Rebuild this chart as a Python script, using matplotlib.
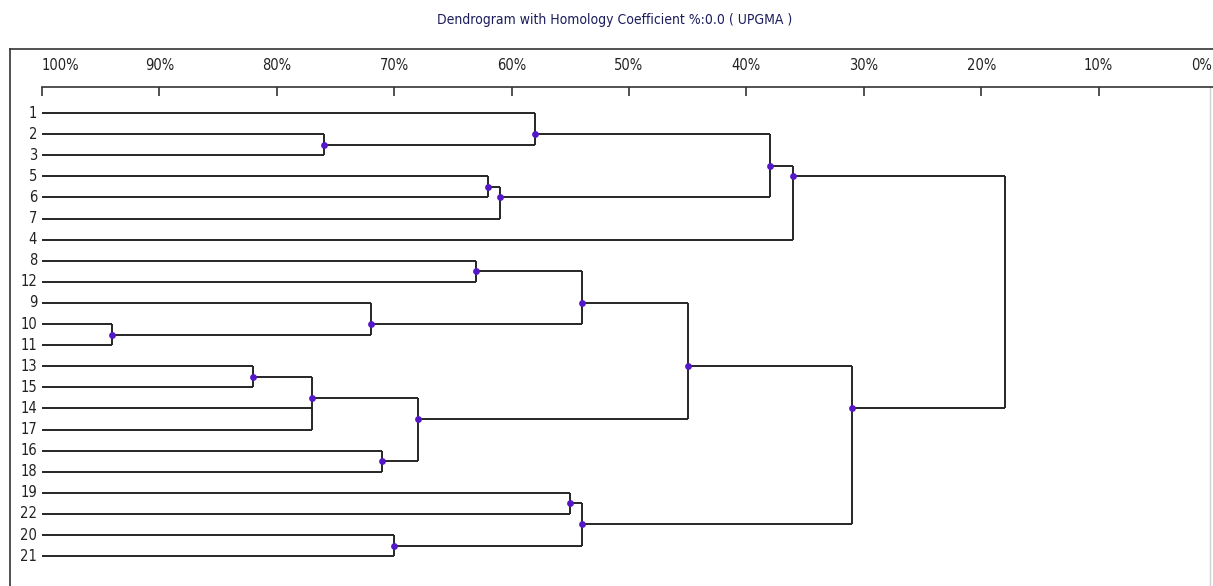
import numpy as np
import matplotlib
matplotlib.use("Agg")
import matplotlib.pyplot as plt

plt.rcParams['font.family'] = ['Liberation Sans Narrow', 'DejaVu Sans']
plt.rcParams['font.stretch'] = 'condensed'

# leaves in the order they are drawn, top to bottom
leaf_order = ["1", "2", "3", "5", "6", "7", "4", "8", "12", "9", "10", "11",
              "13", "15", "14", "17", "16", "18", "19", "22", "20", "21"]

# merges: (node name, children, similarity %)
merges = [
    ("n1", ["10", "11"], 94.0),
    ("n2", ["13", "15"], 82.0),
    ("n3", ["n2", "14", "17"], 77.0),
    ("n4", ["2", "3"], 76.0),
    ("n5", ["9", "n1"], 72.0),
    ("n6", ["16", "18"], 71.0),
    ("n7", ["20", "21"], 70.0),
    ("n8", ["n3", "n6"], 68.0),
    ("n9", ["8", "12"], 63.0),
    ("n10", ["5", "6"], 62.0),
    ("n11", ["n10", "7"], 61.0),
    ("n12", ["1", "n4"], 58.0),
    ("n13", ["19", "22"], 55.0),
    ("n14", ["n9", "n5"], 54.0),
    ("n15", ["n13", "n7"], 54.0),
    ("n16", ["n14", "n8"], 45.0),
    ("n17", ["n12", "n11"], 38.0),
    ("n18", ["n17", "4"], 36.0),
    ("n19", ["n16", "n15"], 31.0),
    ("root", ["n18", "n19"], 18.0),
]

scale_ticks = [100, 90, 80, 70, 60, 50, 40, 30, 20, 10, 0]
title = "Dendrogram with Homology Coefficient %:0.0 ( UPGMA )"

W, H = 1213, 586
x100 = 42.0      # pixel of 100%
pxpct = 11.74    # pixels per percent
row0 = 113.0     # pixel of first leaf
rowh = 21.1      # pixels per leaf row


def px_to_pct(px):
    return 100 - (px - x100) / pxpct


def px_to_row(py):
    return (py - row0) / rowh


fig = plt.figure(figsize=(W / 100, H / 100), dpi=100)
fig.patch.set_facecolor("white")

# main axes: its left and top spines are the frame
fl, ft = 10.0, 49.0
fr, fb = W + 150.0, H + 30.0
ax = fig.add_axes([fl / W, 1 - fb / H, (fr - fl) / W, (fb - ft) / H])
ax.set_xlim(px_to_pct(fl), px_to_pct(fr))
ax.set_ylim(px_to_row(fb), px_to_row(ft))
ax.set_xticks([])
ax.set_yticks([])
for s in ["left", "top"]:
    ax.spines[s].set_color("#333333")
    ax.spines[s].set_linewidth(1.2)
for s in ["right", "bottom"]:
    ax.spines[s].set_visible(False)

# positions of leaves and nodes
pos = {}
for i, name in enumerate(leaf_order):
    pos[name] = (100.0, float(i), [i])

lc = "#262626"
lw = 1.4
dots_x, dots_y = [], []
for name, kids, sim in merges:
    leaves = []
    for k in kids:
        leaves += pos[k][2]
    y = float(np.mean(leaves))
    ys = []
    for k in kids:
        kx, ky, _ = pos[k]
        ax.plot([kx, sim], [ky, ky], color=lc, lw=lw, solid_capstyle="butt")
        ys.append(ky)
    ax.plot([sim, sim], [min(ys), max(ys)], color=lc, lw=lw, solid_capstyle="butt")
    pos[name] = (sim, y, leaves)
    if name != "root":
        dots_x.append(sim)
        dots_y.append(y)

ax.scatter(dots_x, dots_y, s=24, color="#5518c8", zorder=5, linewidths=0)

for i, name in enumerate(leaf_order):
    ax.text(px_to_pct(37), i, name, ha="right", va="center", fontsize=10.5,
            color="#222222")

# faint right border line
ax.plot([px_to_pct(1210), px_to_pct(1210)], [px_to_row(88), px_to_row(fb)],
        color="#cfcfcf", lw=1)

# percent scale on top
sc = fig.add_axes([x100 / W, 1 - 88 / H, 100 * pxpct / W, 0.001])
sc.set_xlim(100, 0)
sc.set_yticks([])
sc.patch.set_visible(False)
for s in ["left", "right", "bottom"]:
    sc.spines[s].set_visible(False)
sc.spines["top"].set_color("#333333")
sc.spines["top"].set_linewidth(1.2)
sc.xaxis.set_ticks_position("top")
sc.set_xticks(scale_ticks)
sc.set_xticklabels([f"{t}%" if t > 0 else "" for t in scale_ticks])
sc.tick_params(axis="x", direction="in", length=6.5, width=1.2, color="#333333",
               pad=10.5, labelsize=10.5, labelcolor="#222222")
sc.get_xticklabels()[0].set_horizontalalignment("left")
# last label sits against the right edge
fig.text(1212 / W, 1 - 65 / H, "0%", ha="right", va="center", fontsize=10.5,
         color="#222222")

fig.text(615 / W, 1 - 20 / H, title, ha="center", va="center", fontsize=10,
         color="#1c1c5c")

fig.savefig("out.png", dpi=100, facecolor="white")
